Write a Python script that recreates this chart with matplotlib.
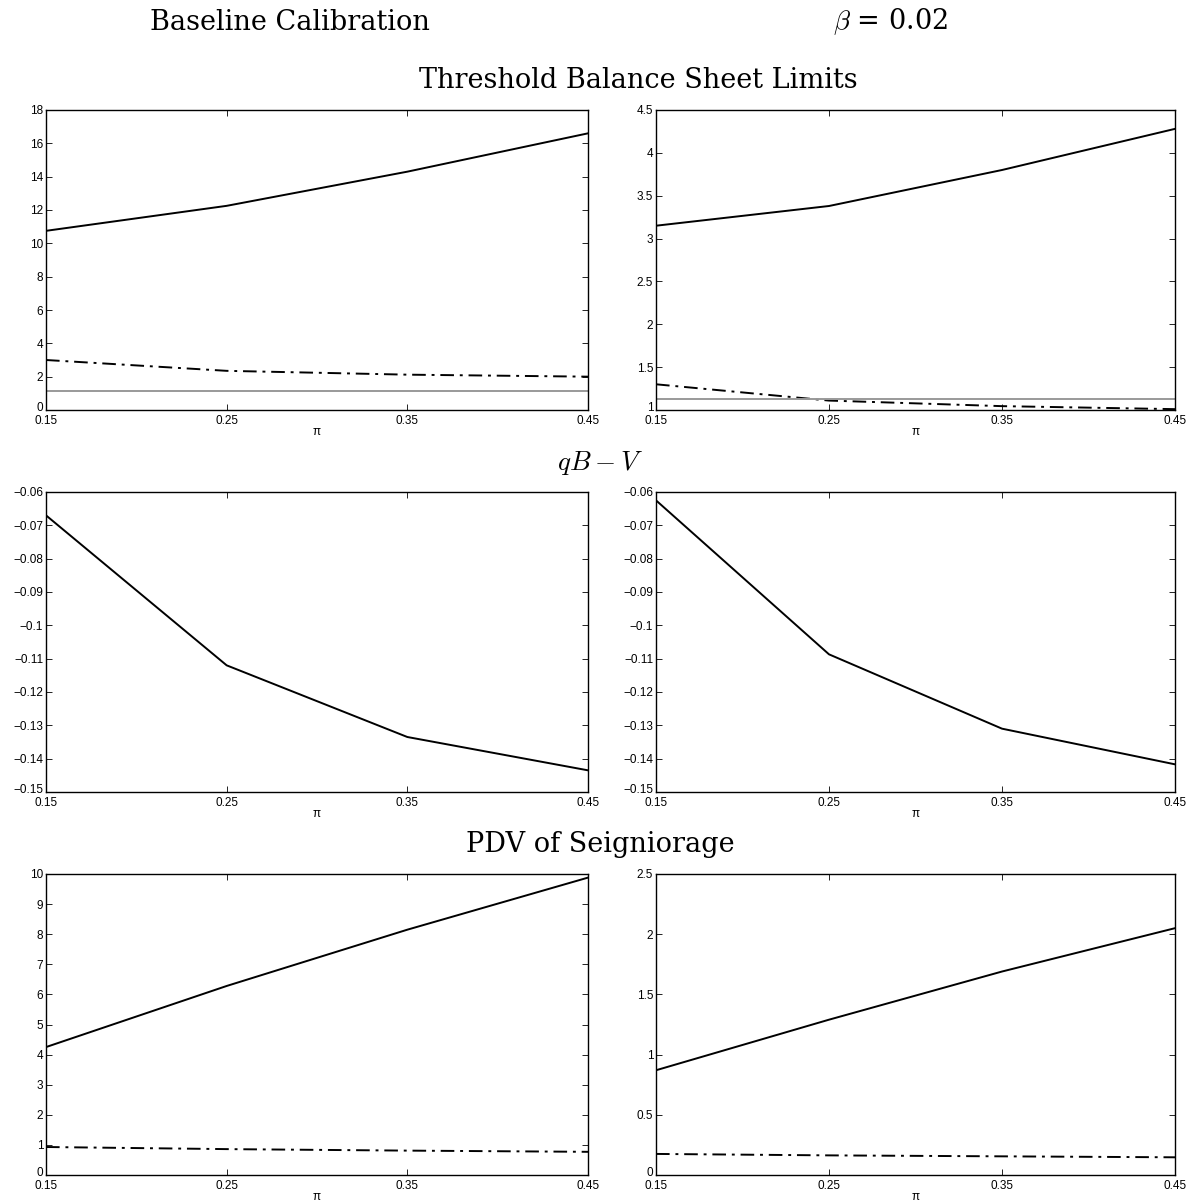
import matplotlib
matplotlib.use("Agg")
import matplotlib.pyplot as plt
from matplotlib.transforms import ScaledTranslation

plt.rcParams["mathtext.fontset"] = "cm"

pi_vals = [0.15, 0.25, 0.35, 0.45]

# Threshold Balance Sheet Limits
tbsl_base_solid = [10.75, 12.25, 14.3, 16.6]
tbsl_base_dash = [3.0, 2.35, 2.12, 2.0]
tbsl_base_gray = 1.13
tbsl_beta_solid = [3.15, 3.38, 3.8, 4.28]
tbsl_beta_dash = [1.30, 1.11, 1.045, 1.01]
tbsl_beta_gray = 1.13

# qB - V
qbv_base = [-0.067, -0.112, -0.1335, -0.1435]
qbv_beta = [-0.0625, -0.1087, -0.131, -0.1417]

# PDV of Seigniorage
pdv_base_solid = [4.25, 6.28, 8.15, 9.88]
pdv_base_dash = [0.93, 0.86, 0.81, 0.77]
pdv_beta_solid = [0.87, 1.29, 1.69, 2.05]
pdv_beta_dash = [0.175, 0.163, 0.155, 0.147]

W, H = 1195, 1201
fig = plt.figure(figsize=(W / 100, H / 100), dpi=100)

tickfont = ["Liberation Sans", "DejaVu Sans"]
serif = ["DejaVu Serif"]

cols = [(46, 588), (656, 1175)]
rows = [(110, 410), (492, 792), (874, 1175)]


def make_ax(r, c):
    x0, x1 = cols[c]
    y0, y1 = rows[r]
    ax = fig.add_axes([x0 / W, 1 - y1 / H, (x1 - x0) / W, (y1 - y0) / H])
    ax.set_xlim(0.15, 0.45)
    ax.set_xticks(pi_vals)
    ax.set_xticklabels(["0.15", "0.25", "0.35", "0.45"])
    ax.tick_params(direction="in", top=True, right=True, length=4, width=0.6,
                   labelsize=8.5)
    ax.tick_params(axis="x", pad=3.5)
    ax.tick_params(axis="y", pad=2)
    for lab in ax.get_xticklabels():
        lab.set_family(tickfont)
    for s in ax.spines.values():
        s.set_linewidth(1.0)
    ax.set_xlabel("π", fontsize=8.5, family=tickfont, labelpad=-0.5)
    return ax


def finish_y(ax, ticks, labels):
    ax.set_yticks(ticks)
    ax.set_yticklabels(labels, family=tickfont)
    lab0 = ax.yaxis.get_major_ticks()[0].label1
    lab0.set_transform(lab0.get_transform()
                       + ScaledTranslation(0, 2.5 / 72, fig.dpi_scale_trans))


lw = 1.4
dash_style = (0, (7, 3, 1.5, 3))

# Row 1
ax = make_ax(0, 0)
ax.plot(pi_vals, tbsl_base_solid, color="black", lw=lw)
ax.plot(pi_vals, tbsl_base_dash, color="black", lw=lw, linestyle=dash_style)
ax.axhline(tbsl_base_gray, color="#999999", lw=1.4)
ax.set_ylim(0, 18)
finish_y(ax, list(range(0, 19, 2)), [str(v) for v in range(0, 19, 2)])

ax = make_ax(0, 1)
ax.plot(pi_vals, tbsl_beta_solid, color="black", lw=lw)
ax.plot(pi_vals, tbsl_beta_dash, color="black", lw=lw, linestyle=dash_style)
ax.axhline(tbsl_beta_gray, color="#999999", lw=1.4)
ax.set_ylim(1, 4.5)
finish_y(ax, [1, 1.5, 2, 2.5, 3, 3.5, 4, 4.5],
         ["1", "1.5", "2", "2.5", "3", "3.5", "4", "4.5"])

# Row 2
yt2 = [-0.15, -0.14, -0.13, -0.12, -0.11, -0.1, -0.09, -0.08, -0.07, -0.06]
yl2 = ["\u22120.15", "\u22120.14", "\u22120.13", "\u22120.12", "\u22120.11",
       "\u22120.1", "\u22120.09", "\u22120.08", "\u22120.07", "\u22120.06"]
ax = make_ax(1, 0)
ax.plot(pi_vals, qbv_base, color="black", lw=lw)
ax.set_ylim(-0.15, -0.06)
finish_y(ax, yt2, yl2)

ax = make_ax(1, 1)
ax.plot(pi_vals, qbv_beta, color="black", lw=lw)
ax.set_ylim(-0.15, -0.06)
finish_y(ax, yt2, yl2)

# Row 3
ax = make_ax(2, 0)
ax.plot(pi_vals, pdv_base_solid, color="black", lw=lw)
ax.plot(pi_vals, pdv_base_dash, color="black", lw=lw, linestyle=dash_style)
ax.set_ylim(0, 10)
finish_y(ax, list(range(0, 11)), [str(v) for v in range(0, 11)])

ax = make_ax(2, 1)
ax.plot(pi_vals, pdv_beta_solid, color="black", lw=lw)
ax.plot(pi_vals, pdv_beta_dash, color="black", lw=lw, linestyle=dash_style)
ax.set_ylim(0, 2.5)
finish_y(ax, [0, 0.5, 1, 1.5, 2, 2.5], ["0", "0.5", "1", "1.5", "2", "2.5"])

# Titles
fig.text(290 / W, 1 - 22 / H, "Baseline Calibration", ha="center", va="center",
         fontsize=19.5, family=serif)
fig.text(890 / W, 1 - 22 / H, r"$\beta$ = 0.02", ha="center", va="center",
         fontsize=19.5, family=serif)
fig.text(638 / W, 1 - 80 / H, "Threshold Balance Sheet Limits", ha="center",
         va="center", fontsize=19.5, family=serif)
fig.text(600 / W, 1 - 463 / H, r"$qB - V$", ha="center", va="center",
         fontsize=19.5, family=serif)
fig.text(600 / W, 1 - 845 / H, "PDV of Seigniorage", ha="center", va="center",
         fontsize=19.5, family=serif)

fig.savefig("out.png", dpi=100)
